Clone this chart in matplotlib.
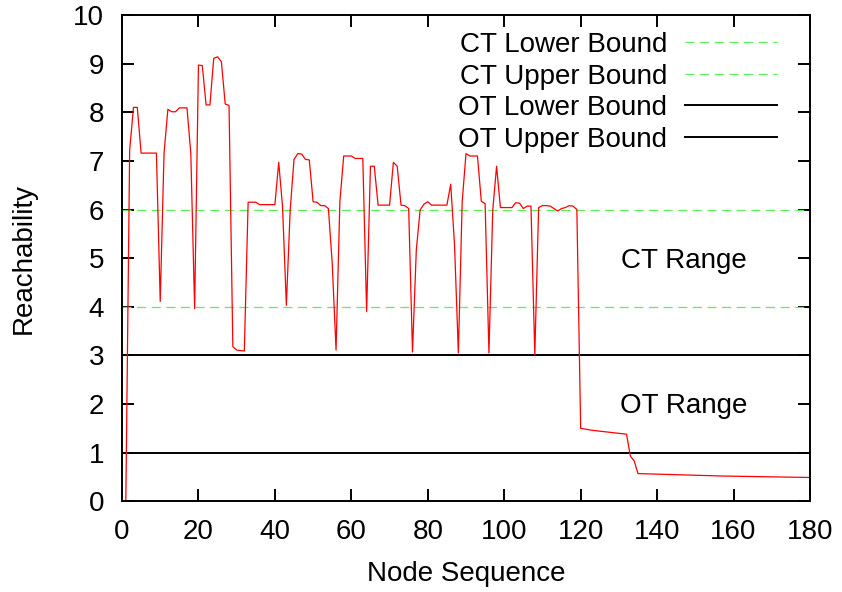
import numpy as np
from matplotlib import pyplot as plt

# reachability per node (nodes 1..120), then sparse tail points
reach_head = [
    0.00, 7.22, 8.10, 8.10, 7.16, 7.16, 7.16, 7.16, 7.16, 4.11,
    7.16, 8.06, 8.01, 8.01, 8.09, 8.09, 8.09, 7.16, 3.96, 8.97,
    8.96, 8.15, 8.15, 9.11, 9.14, 9.04, 8.17, 8.14, 3.18, 3.11,
    3.10, 3.09, 6.15, 6.15, 6.15, 6.10, 6.10, 6.10, 6.10, 6.10,
    6.97, 6.06, 4.03, 5.99, 7.03, 7.15, 7.14, 7.03, 7.02, 6.16,
    6.15, 6.08, 6.08, 6.02, 4.89, 3.11, 6.16, 7.10, 7.10, 7.10,
    7.05, 7.05, 7.05, 3.90, 6.89, 6.89, 6.09, 6.09, 6.09, 6.09,
    6.97, 6.89, 6.09, 6.08, 6.02, 3.07, 5.17, 5.99, 6.11, 6.16,
    6.09, 6.09, 6.09, 6.09, 6.09, 6.52, 5.27, 3.05, 6.16, 7.15,
    7.10, 7.10, 7.10, 6.17, 6.12, 3.05, 5.99, 6.89, 6.04, 6.04,
    6.04, 6.04, 6.14, 6.13, 6.02, 6.07, 6.07, 3.01, 6.04, 6.08,
    6.08, 6.07, 6.02, 5.97, 6.02, 6.04, 6.08, 6.07, 6.00, 1.50,
]
tail_nodes = [123, 132, 133, 134, 135, 157, 180]
tail_reach = [1.46, 1.38, 0.93, 0.83, 0.57, 0.52, 0.49]

nodes = list(range(1, len(reach_head) + 1)) + tail_nodes
reach = reach_head + tail_reach

ct_bounds = [4, 6]
ot_bounds = [1, 3]

plt.rcParams['font.family'] = ['Liberation Sans', 'DejaVu Sans']
plt.rcParams['font.size'] = 20

fig = plt.figure(figsize=(8.42, 5.92), dpi=100)
ax = fig.add_axes([0.1449, 0.1532, 0.962 - 0.1449, 0.9747 - 0.1532])

green = '#5cf05c'
dash = (0, (7.2, 4.5))
ax.axhline(ct_bounds[0], color=green, lw=0.9, ls=dash, label='CT Lower Bound')
ax.axhline(ct_bounds[1], color=green, lw=0.9, ls=dash, label='CT Upper Bound')
ax.axhline(ot_bounds[0], color='black', lw=1.4, label='OT Lower Bound')
ax.axhline(ot_bounds[1], color='black', lw=1.4, label='OT Upper Bound')
ax.plot(nodes, reach, color='red', lw=0.9)

ax.text(147, 4.95, 'CT Range', ha='center', va='center')
ax.text(147, 1.95, 'OT Range', ha='center', va='center')

ax.set_xlim(0, 180)
ax.set_ylim(0, 10)
ax.set_xticks(np.arange(0, 181, 20))
ax.set_yticks(np.arange(0, 11, 1))
ax.tick_params(direction='in', length=8.6, width=1.4, pad=13,
               top=True, right=True)
for s in ax.spines.values():
    s.set_linewidth(1.4)

ax.set_xlabel('Node Sequence', labelpad=11)
ax.set_ylabel('Reachability', labelpad=26)

ax.legend(loc='upper right', bbox_to_anchor=(0.952, 0.965), frameon=False,
          markerfirst=False, handlelength=3.3, handletextpad=0.65,
          labelspacing=0.2, borderpad=0, borderaxespad=0)

fig.savefig('out.png', dpi=100)
